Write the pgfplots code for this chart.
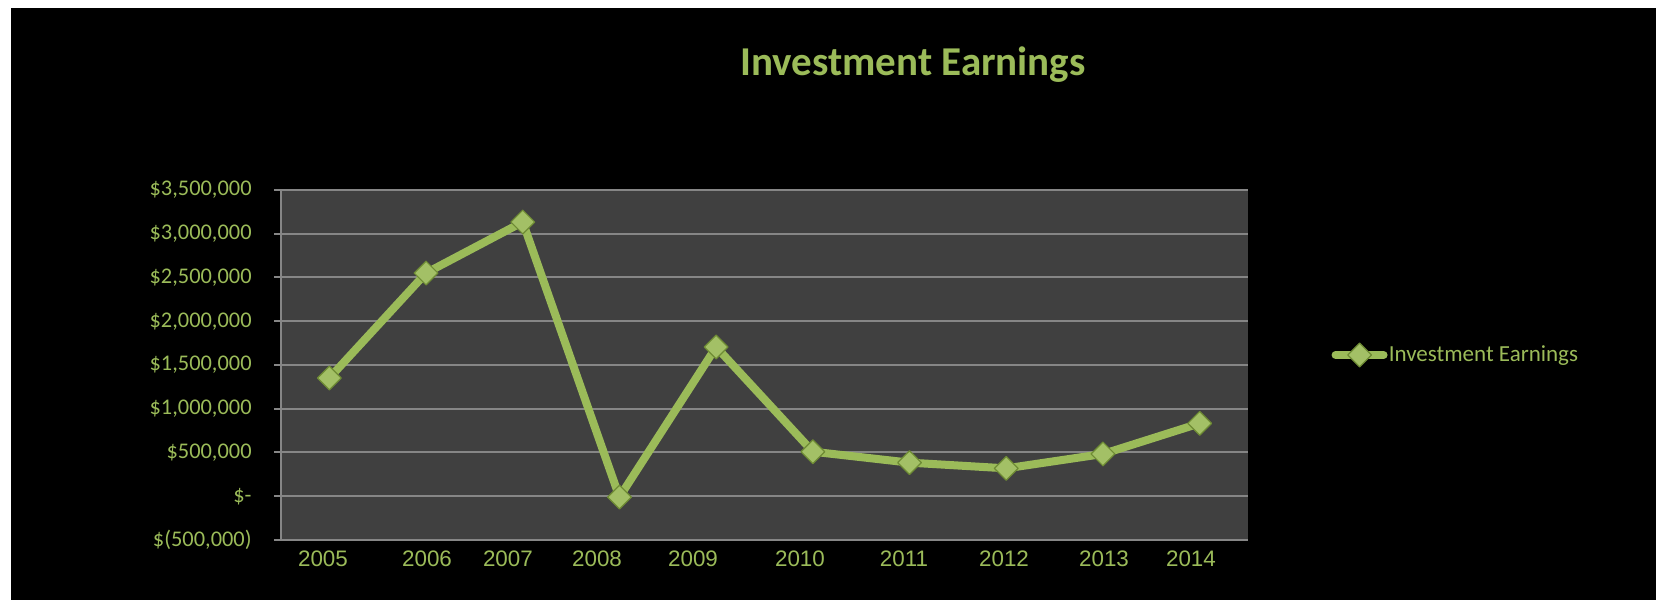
\documentclass[border=0pt]{standalone}
\usepackage{fontspec}
\setmainfont{Carlito}
\newfontfamily\arialfont{Liberation Sans}
\usepackage{pgfplots}
\pgfplotsset{compat=1.18}
\definecolor{ogreen}{HTML}{9BBB59}
\definecolor{plotbg}{HTML}{404040}
\definecolor{gridgray}{HTML}{868686}
\definecolor{mkdark}{HTML}{6E8B34}

\begin{document}
\begin{tikzpicture}
% page background: thin white strip left and top, black elsewhere
\fill[white] (0pt,0pt) rectangle (828pt,300pt);
\fill[black] (5.5pt,0pt) rectangle (828pt,296pt);
\useasboundingbox (0pt,0pt) rectangle (828pt,300pt);

\begin{axis}[
  at={(140.5pt,30pt)}, anchor=south west,
  scale only axis, width=483.5pt, height=175pt,
  xmin=-0.5, xmax=9.5,
  ymin=-500000, ymax=3500000,
  enlargelimits=false,
  scaled y ticks=false,
  axis x line*=bottom, axis y line*=left,
  axis line style={gridgray, line width=1pt, -},
  axis background/.style={fill=plotbg},
  ymajorgrids,
  grid style={gridgray, line width=1pt},
  tick align=outside,
  major tick length=3.5pt,
  ytick style={gridgray, line width=1pt},
  xtick style={draw=none},
  ytick={-500000,0,500000,1000000,1500000,2000000,2500000,3000000,3500000},
  yticklabels={{\$(500,000)},{\$-},{\$500,000},{\$1,000,000},{\$1,500,000},{\$2,000,000},{\$2,500,000},{\$3,000,000},{\$3,500,000}},
  yticklabel style={font=\fontsize{11.2}{13}\selectfont, text=ogreen, anchor=east, inner sep=0pt, xshift=-11pt},
  xtick={-0.066,1.010,1.847,2.768,3.761,4.867,5.943,6.977,8.011,8.910},
  xticklabels={2005,2006,2007,2008,2009,2010,2011,2012,2013,2014},
  xticklabel style={font=\arialfont\fontsize{11.2}{13}\selectfont, text=ogreen, anchor=center, inner sep=0pt, yshift=-6pt},
  legend style={at={(1.086,0.5286)}, anchor=west, draw=none, fill=none, inner sep=0pt,
    nodes={inner sep=0.6pt},
    text=ogreen, font=\fontsize{11.5}{13}\selectfont},
  legend image code/.code={\draw[mark repeat=2,mark phase=2,#1] plot coordinates {(0pt,0pt) (12pt,0pt) (24pt,0pt)};},
]
\addplot[ogreen, line width=4pt, line join=round, line cap=round,
  mark=square*, mark size=4.2pt,
  mark options={rotate=45, fill=ogreen!92!white, draw=mkdark, line width=0.6pt}]
  coordinates {
  (0, 1351000)
  (1, 2551000)
  (2, 3134000)
  (3, -10000)
  (4, 1706000)
  (5, 509000)
  (6, 384000)
  (7, 319000)
  (8, 483000)
  (9, 833000)
  };
\addlegendentry{Investment Earnings}
\end{axis}

\node[anchor=base, text=ogreen, font=\bfseries\fontsize{20.5}{24}\selectfont] at (456.5pt,262pt) {Investment Earnings};
\end{tikzpicture}
\end{document}
